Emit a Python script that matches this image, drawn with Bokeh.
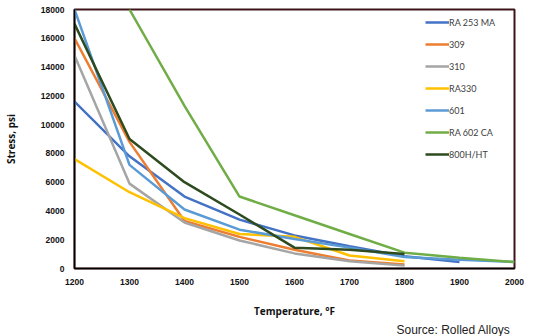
from bokeh.plotting import figure
from bokeh.models import Legend, LegendItem, Title, FixedTicker
from bokeh.embed import file_html
from bokeh.resources import INLINE

temps = [1200, 1300, 1400, 1500, 1600, 1700, 1800, 1900, 2000]

ra253ma = [11600, 7800, 5000, 3400, 2300, 1550, 850, 450]
s309 = [16000, 8800, 3300, 2200, 1300, 550, 280]
s310 = [14800, 5900, 3200, 1950, 1050, 500, 200]
ra330 = [7600, 5300, 3500, 2400, 2200, 900, 500]
s601 = [18000, 7200, 4100, 2700, 2050, 1450, 800, 600, 450]
ra602_temps = [1300, 1400, 1500, 1600, 1700, 1800, 1900, 2000]
ra602ca = [18000, 11300, 5000, 3700, 2400, 1100, 750, 450]
s800ht = [17000, 9000, 6000, 3750, 1450, 1300, 1000]

series_names = ["RA 253 MA", "309", "310", "RA330", "601", "RA 602 CA", "800H/HT"]
colors = ["#4472C4", "#ED7D31", "#A5A5A5", "#FFC000", "#5B9BD5", "#70AD47", "#2E4A1F"]

x_ticks = [1200, 1300, 1400, 1500, 1600, 1700, 1800, 1900, 2000]
y_ticks = [0, 2000, 4000, 6000, 8000, 10000, 12000, 14000, 16000, 18000]

p = figure(width=536, height=336, output_backend="svg", toolbar_location=None,
           x_range=(1200, 2000), y_range=(0, 18000),
           min_border_left=73, min_border_right=22, min_border_top=9, min_border_bottom=68)
p.xgrid.visible = False
p.ygrid.visible = False
p.background_fill_color = "white"
p.border_fill_color = "white"
p.outline_line_color = "#3c1419"
p.outline_line_width = 2

data = [
    (temps[:8], ra253ma),
    (temps[:7], s309),
    (temps[:7], s310),
    (temps[:7], ra330),
    (temps, s601),
    (ra602_temps, ra602ca),
    (temps[:7], s800ht),
]

items = []
for (xs, ys), name, c in zip(data, series_names, colors):
    r = p.line(xs, ys, line_color=c, line_width=2.5)
    items.append(LegendItem(label=name, renderers=[r]))

for ax in (p.xaxis[0], p.yaxis[0]):
    ax.major_tick_line_color = None
    ax.minor_tick_line_color = None
    ax.axis_line_color = "black"
    ax.axis_line_width = 1.5
    ax.major_label_text_font = "Liberation Sans"
    ax.major_label_text_font_style = "bold"
    ax.major_label_text_font_size = "8.5px"
    ax.major_label_text_color = "#111111"
    ax.axis_label_text_font = "Open Sans"
    ax.axis_label_text_font_style = "bold"
    ax.axis_label_text_font_size = "10px"
    ax.axis_label_text_color = "#111111"

p.xaxis[0].ticker = FixedTicker(ticks=x_ticks)
p.yaxis[0].ticker = FixedTicker(ticks=y_ticks)
p.xaxis[0].major_label_standoff = 4
p.yaxis[0].major_label_standoff = 4
p.xaxis[0].axis_label = "Temperature, °F"
p.yaxis[0].axis_label = "Stress, psi"
p.xaxis[0].axis_label_standoff = 16
p.yaxis[0].axis_label_standoff = 20

legend = Legend(items=items, location=(351, 104), orientation="vertical",
                glyph_width=24, glyph_height=20, label_height=20, spacing=2,
                label_standoff=0, padding=0, margin=0,
                label_text_font="Lato", label_text_font_size="9px",
                label_text_color="#404040",
                border_line_alpha=0, background_fill_alpha=0)
p.add_layout(legend)

src = Title(text="Source: Rolled Alloys", align="right", text_font="Liberation Sans",
            text_font_size="12px", text_font_style="normal", text_color="#222222",
            standoff=0, offset=4)
p.add_layout(src, "below")

open("out.html", "w").write(file_html(p, INLINE))
